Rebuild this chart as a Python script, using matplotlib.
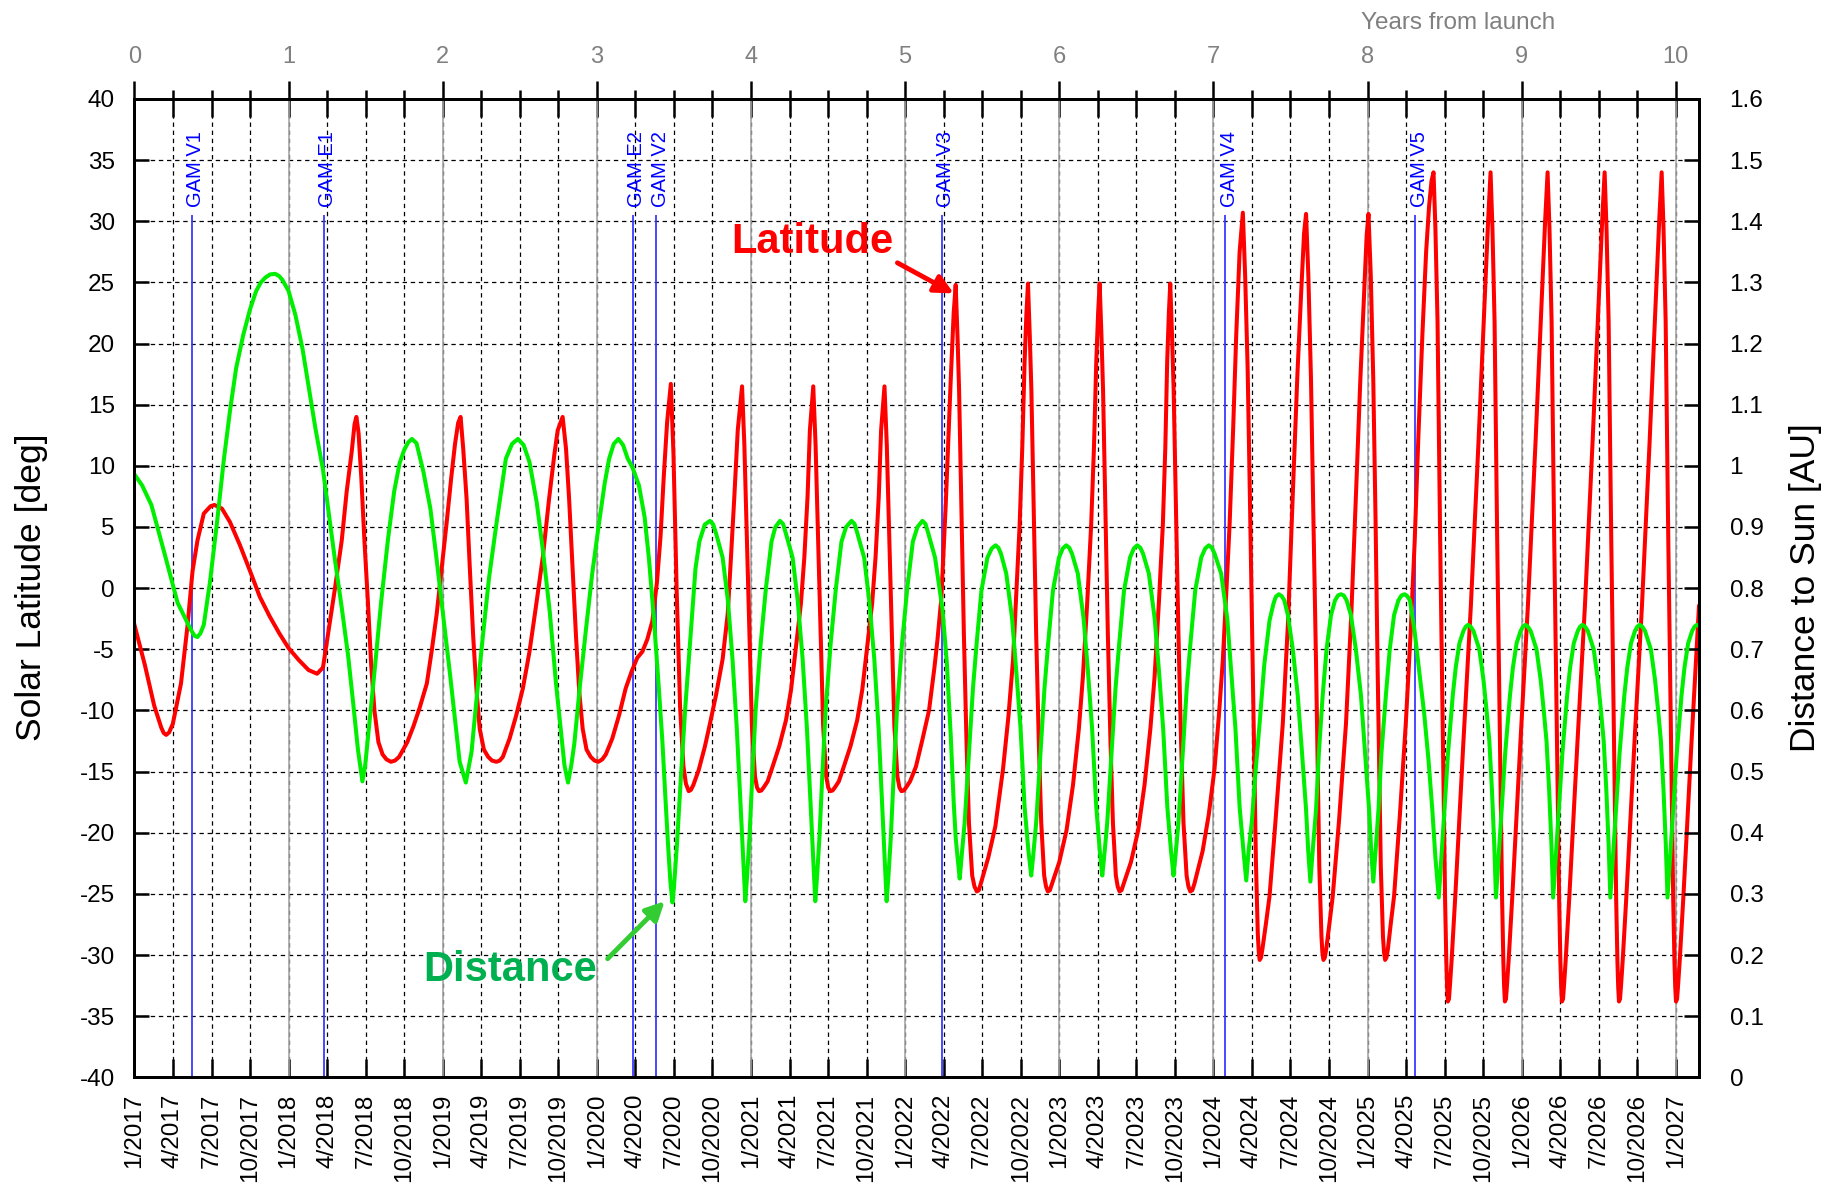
import matplotlib
matplotlib.use('Agg')
import matplotlib.pyplot as plt
import numpy as np
from matplotlib import font_manager

plt.rcParams['font.family'] = ['Liberation Sans', 'DejaVu Sans']
plt.rcParams['axes.unicode_minus'] = False

# solar latitude [deg] against years from launch
lat_t = [
    0.0, 0.068, 0.128, 0.174, 0.19, 0.206, 0.225, 0.249, 0.302, 0.345, 0.377, 0.409, 0.45, 0.494, 0.519, 0.568, 0.62, 0.685,
    0.75, 0.813, 0.877, 0.94, 1.0, 1.068, 1.13, 1.185, 1.223, 1.26, 1.30, 1.345, 1.377, 1.41, 1.428, 1.44,
    1.454, 1.472, 1.492, 1.515, 1.536, 1.557, 1.583, 1.61, 1.635, 1.664, 1.69, 1.717, 1.77, 1.81, 1.85, 1.897, 1.93, 1.961, 1.995, 2.026, 2.055, 2.08, 2.10, 2.116,
    2.133, 2.155, 2.176, 2.198, 2.22, 2.24, 2.267, 2.295, 2.32, 2.348, 2.37, 2.39, 2.434, 2.477, 2.52, 2.563, 2.606, 2.65, 2.69, 2.725, 2.746, 2.778,
    2.8, 2.82, 2.843, 2.865, 2.886, 2.908, 2.933, 2.96, 2.985, 3.01, 3.035, 3.058, 3.10, 3.144, 3.187, 3.226, 3.262, 3.295, 3.327, 3.36, 3.39, 3.413, 3.434, 3.456, 3.48,
    3.497, 3.518, 3.54, 3.561, 3.578, 3.596, 3.61, 3.626, 3.66, 3.70, 3.73, 3.773, 3.816, 3.849, 3.87, 3.892, 3.914, 3.942,
    3.957, 3.972, 3.99, 4.006, 4.026, 4.039, 4.052, 4.067, 4.082, 4.108, 4.14, 4.184, 4.227, 4.26, 4.29, 4.324, 4.346, 4.367, 4.382, 4.404,
    4.419, 4.434, 4.452, 4.468, 4.488, 4.501, 4.514, 4.529, 4.544, 4.57, 4.602, 4.646, 4.689, 4.722, 4.752, 4.786, 4.808, 4.829, 4.844, 4.866,
    4.881, 4.896, 4.914, 4.93, 4.95, 4.963, 4.976, 4.991, 5.006, 5.032, 5.07, 5.11, 5.155, 5.19, 5.21, 5.235, 5.263, 5.296, 5.315, 5.328,
    5.34, 5.35, 5.365, 5.381, 5.398, 5.414, 5.435, 5.45, 5.465, 5.478, 5.49, 5.54, 5.585, 5.635, 5.67, 5.70, 5.72, 5.743, 5.76, 5.775, 5.787, 5.797,
    5.809, 5.819, 5.834, 5.85, 5.867, 5.883, 5.902, 5.914, 5.926, 5.939, 5.952, 6.0, 6.047, 6.089, 6.127, 6.153, 6.182, 6.207, 6.225, 6.24, 6.252, 6.262,
    6.274, 6.284, 6.299, 6.315, 6.332, 6.348, 6.367, 6.379, 6.391, 6.404, 6.417, 6.465, 6.512, 6.553, 6.591, 6.618, 6.647, 6.672, 6.688, 6.70, 6.711, 6.72,
    6.732, 6.742, 6.757, 6.773, 6.79, 6.806, 6.826, 6.838, 6.85, 6.863, 6.876, 6.93, 6.97, 7.007, 7.035, 7.061, 7.085, 7.105, 7.128, 7.148, 7.17, 7.191,
    7.206, 7.222, 7.238, 7.255, 7.276, 7.288, 7.294, 7.30, 7.309, 7.318, 7.34, 7.364, 7.40, 7.45, 7.485, 7.515, 7.545, 7.569, 7.588, 7.601,
    7.616, 7.633, 7.649, 7.666, 7.687, 7.701, 7.707, 7.714, 7.723, 7.732, 7.752, 7.774, 7.815, 7.86, 7.895, 7.925, 7.953, 7.978, 7.994, 8.006,
    8.021, 8.037, 8.052, 8.065, 8.086, 8.10, 8.107, 8.114, 8.123, 8.132, 8.15, 8.172, 8.21, 8.248, 8.28, 8.306, 8.33, 8.356, 8.38, 8.399, 8.415, 8.428,
    8.44, 8.454, 8.471, 8.488, 8.503, 8.511, 8.516, 8.521, 8.528, 8.535, 8.545, 8.57, 8.62, 8.67, 8.72, 8.76, 8.782, 8.798,
    8.81, 8.824, 8.841, 8.858, 8.873, 8.881, 8.886, 8.891, 8.898, 8.905, 8.915, 8.94, 8.99, 9.04, 9.09, 9.13, 9.152, 9.168,
    9.18, 9.194, 9.211, 9.228, 9.243, 9.251, 9.256, 9.261, 9.268, 9.275, 9.285, 9.31, 9.36, 9.41, 9.46, 9.50, 9.522, 9.538,
    9.55, 9.564, 9.581, 9.598, 9.613, 9.621, 9.626, 9.631, 9.638, 9.645, 9.655, 9.68, 9.73, 9.78, 9.83, 9.87, 9.892, 9.908,
    9.92, 9.934, 9.951, 9.968, 9.983, 9.991, 9.996, 10.001, 10.008, 10.015, 10.025, 10.05, 10.10, 10.15,
]
lat_v = [
    -3.0, -6.3, -9.6, -11.4, -11.85, -12.0, -11.8, -11.1, -7.8, -3.0, 1.4, 3.9, 6.1, 6.7, 6.8, 6.5, 5.4, 3.5,
    1.4, -0.7, -2.3, -3.7, -4.9, -5.9, -6.7, -7.0, -6.5, -3.4, -0.1, 3.9, 7.9, 11.2, 13.4, 14.0,
    12.7, 9.0, 3.9, -1.2, -6.3, -10.0, -12.6, -13.6, -14.0, -14.2, -14.1, -13.8, -12.6, -11.3, -9.8, -7.8, -5.0, -2.1, 1.8, 5.4, 9.0, 11.8, 13.5, 14.0,
    11.4, 7.3, 1.6, -4.0, -8.5, -11.5, -13.2, -13.8, -14.1, -14.2, -14.1, -13.8, -12.3, -10.4, -8.2, -5.2, -1.4, 2.6, 7.3, 11.0, 12.9, 14.0,
    11.4, 7.3, 1.6, -4.0, -8.5, -11.5, -13.2, -13.8, -14.1, -14.2, -14.0, -13.6, -12.3, -10.4, -8.2, -6.8, -5.7, -5.2, -4.2, -2.7, 0.5, 4.2, 9.1, 13.6, 16.7,
    11.0, -0.3, -9.7, -14.5, -16.0, -16.6, -16.5, -16.1, -14.9, -13.0, -11.3, -8.75, -5.8, -2.1, 2.5, 7.5, 12.9, 16.5,
    11.7, 4.6, -3.75, -11.25, -15.4, -16.3, -16.6, -16.55, -16.3, -15.8, -14.6, -12.9, -10.8, -8.3, -5.0, -1.25, 2.5, 7.5, 12.9, 16.5,
    11.7, 4.6, -3.75, -11.25, -15.4, -16.3, -16.6, -16.55, -16.3, -15.8, -14.6, -12.9, -10.8, -8.3, -5.0, -1.25, 2.5, 7.5, 12.9, 16.5,
    11.7, 4.6, -3.75, -11.25, -15.4, -16.3, -16.6, -16.55, -16.3, -15.8, -14.6, -12.5, -10.0, -6.5, -4.2, -0.8, 6.7, 17.1, 22.5, 24.8,
    20.5, 16.2, 6.5, -3.7, -12.5, -19.2, -23.5, -24.4, -24.8, -24.7, -24.2, -22.0, -19.5, -14.8, -10.5, -5.9, -0.8, 5.2, 11.5, 18.5, 22.5, 24.9,
    20.5, 16.2, 6.5, -3.7, -12.5, -19.2, -23.5, -24.4, -24.8, -24.7, -24.2, -22.4, -19.8, -16.1, -11.5, -7.3, -1.0, 5.2, 11.5, 18.5, 22.5, 24.9,
    20.5, 16.2, 6.5, -3.7, -12.5, -19.2, -23.5, -24.4, -24.8, -24.7, -24.2, -22.4, -19.8, -16.1, -11.5, -7.3, -1.0, 5.2, 11.5, 18.5, 22.5, 24.9,
    20.5, 16.2, 6.5, -3.7, -12.5, -19.2, -23.5, -24.4, -24.8, -24.7, -24.2, -21.5, -18.5, -14.8, -10.5, -5.9, 0.0, 5.2, 13.0, 20.7, 27.5, 30.7,
    25.5, 18.0, 6.5, -6.3, -22.5, -28.3, -29.7, -30.4, -30.2, -29.5, -27.5, -25.2, -19.5, -11.1, -2.5, 7.7, 17.5, 24.1, 29.0, 30.6,
    25.5, 17.1, 5.5, -6.3, -22.8, -28.5, -29.8, -30.4, -30.2, -29.5, -27.5, -25.2, -19.0, -11.1, -2.0, 7.7, 17.0, 24.1, 28.8, 30.6,
    25.5, 17.1, 5.5, -6.3, -22.8, -28.5, -29.8, -30.4, -30.2, -29.5, -27.5, -25.2, -18.5, -11.1, -3.5, 3.9, 12.5, 20.8, 27.5, 31.2, 33.3, 34.0,
    29.5, 21.8, 4.0, -12.0, -25.5, -30.5, -32.6, -33.8, -33.6, -32.4, -30.5, -25.0, -13.0, -1.5, 12.0, 23.5, 30.0, 34.0,
    29.5, 21.8, 4.0, -12.0, -25.5, -30.5, -32.6, -33.8, -33.6, -32.4, -30.5, -25.0, -13.0, -1.5, 12.0, 23.5, 30.0, 34.0,
    29.5, 21.8, 4.0, -12.0, -25.5, -30.5, -32.6, -33.8, -33.6, -32.4, -30.5, -25.0, -13.0, -1.5, 12.0, 23.5, 30.0, 34.0,
    29.5, 21.8, 4.0, -12.0, -25.5, -30.5, -32.6, -33.8, -33.6, -32.4, -30.5, -25.0, -13.0, -1.5, 12.0, 23.5, 30.0, 34.0,
    29.5, 21.8, 4.0, -12.0, -25.5, -30.5, -32.6, -33.8, -33.6, -32.4, -30.5, -25.0, -13.0, -1.5,
]

# distance to sun [AU] against years from launch
dist_t = [
    0.0, 0.05, 0.11, 0.196, 0.28, 0.366, 0.39, 0.408, 0.428, 0.45, 0.49, 0.536, 0.58, 0.62, 0.66, 0.706, 0.75, 0.79, 0.82, 0.85,
    0.88, 0.913, 0.94, 0.96, 1.0, 1.045, 1.09, 1.13, 1.175, 1.223, 1.26, 1.30, 1.345, 1.387, 1.42, 1.45, 1.479,
    1.497, 1.515, 1.56, 1.60, 1.645, 1.685, 1.72, 1.75, 1.775, 1.80, 1.83, 1.875, 1.92, 1.96, 2.005, 2.047, 2.08, 2.11, 2.15,
    2.187, 2.22, 2.26, 2.30, 2.35, 2.41, 2.45, 2.488, 2.525, 2.563, 2.61, 2.65, 2.695, 2.735, 2.765, 2.79, 2.813,
    2.834, 2.854, 2.89, 2.93, 2.97, 3.015, 3.05, 3.08, 3.11, 3.14, 3.17, 3.2, 3.23, 3.273, 3.31, 3.338, 3.37, 3.40, 3.425, 3.445, 3.462, 3.477, 3.49,
    3.50, 3.52, 3.545, 3.574, 3.61, 3.64, 3.665, 3.70, 3.734, 3.755, 3.775, 3.816, 3.85, 3.88, 3.908, 3.935, 3.951, 3.963,
    3.975, 3.99, 4.008, 4.03, 4.063, 4.097, 4.133, 4.158, 4.188, 4.208, 4.228, 4.27, 4.303, 4.335, 4.363, 4.389, 4.405, 4.417,
    4.429, 4.444, 4.462, 4.484, 4.517, 4.551, 4.587, 4.617, 4.652, 4.672, 4.692, 4.734, 4.767, 4.80, 4.828, 4.853, 4.868, 4.88,
    4.892, 4.907, 4.925, 4.947, 4.98, 5.014, 5.05, 5.08, 5.112, 5.132, 5.152, 5.194, 5.242, 5.27, 5.296, 5.315, 5.328, 5.34, 5.354,
    5.366, 5.386, 5.414, 5.44, 5.464, 5.495, 5.534, 5.562, 5.587, 5.605, 5.622, 5.656, 5.694, 5.721, 5.749, 5.775, 5.80, 5.818,
    5.83, 5.85, 5.878, 5.904, 5.928, 5.959, 5.998, 6.023, 6.045, 6.065, 6.083, 6.12, 6.158, 6.186, 6.213, 6.24, 6.263, 6.279,
    6.291, 6.311, 6.339, 6.365, 6.389, 6.42, 6.459, 6.484, 6.506, 6.526, 6.544, 6.581, 6.619, 6.647, 6.674, 6.701, 6.725, 6.741,
    6.753, 6.773, 6.801, 6.827, 6.851, 6.882, 6.921, 6.947, 6.97, 6.99, 7.008, 7.05, 7.09, 7.115, 7.143, 7.17, 7.195, 7.213,
    7.228, 7.25, 7.27, 7.30, 7.33, 7.364, 7.39, 7.405, 7.424, 7.443, 7.46, 7.483, 7.515, 7.547, 7.575, 7.601, 7.615, 7.629,
    7.644, 7.666, 7.684, 7.709, 7.734, 7.763, 7.789, 7.808, 7.828, 7.846, 7.864, 7.892, 7.924, 7.957, 7.984, 8.01, 8.024, 8.037,
    8.052, 8.071, 8.09, 8.119, 8.144, 8.172, 8.20, 8.22, 8.24, 8.258, 8.275, 8.306, 8.337, 8.367, 8.395, 8.42, 8.44, 8.462,
    8.474, 8.487, 8.499, 8.522, 8.553, 8.572, 8.596, 8.622, 8.637, 8.652, 8.669, 8.687, 8.725, 8.752, 8.772, 8.79, 8.807, 8.822, 8.833,
    8.845, 8.858, 8.87, 8.893, 8.924, 8.943, 8.967, 8.993, 9.008, 9.023, 9.04, 9.058, 9.096, 9.123, 9.143, 9.161, 9.178, 9.193, 9.204,
    9.216, 9.229, 9.241, 9.264, 9.295, 9.314, 9.338, 9.364, 9.379, 9.394, 9.411, 9.429, 9.467, 9.494, 9.514, 9.532, 9.549, 9.564, 9.575,
    9.587, 9.60, 9.612, 9.635, 9.666, 9.685, 9.709, 9.735, 9.75, 9.765, 9.782, 9.80, 9.838, 9.865, 9.885, 9.903, 9.92, 9.935, 9.946,
    9.958, 9.971, 9.983, 10.006, 10.037, 10.056, 10.08, 10.106, 10.121, 10.136, 10.15,
]
dist_v = [
    0.986, 0.968, 0.936, 0.856, 0.776, 0.732, 0.722, 0.72, 0.726, 0.74, 0.81, 0.908, 1.01, 1.09, 1.16, 1.214, 1.256, 1.286, 1.30, 1.308,
    1.313, 1.314, 1.31, 1.304, 1.286, 1.246, 1.192, 1.13, 1.06, 0.994, 0.924, 0.848, 0.768, 0.688, 0.61, 0.536, 0.484,
    0.51, 0.556, 0.67, 0.776, 0.88, 0.958, 1.004, 1.026, 1.038, 1.044, 1.037, 0.99, 0.93, 0.848, 0.75, 0.66, 0.584, 0.516, 0.482,
    0.532, 0.62, 0.72, 0.816, 0.908, 1.012, 1.036, 1.044, 1.034, 1.006, 0.94, 0.862, 0.76, 0.644, 0.57, 0.51, 0.482,
    0.51, 0.546, 0.64, 0.734, 0.824, 0.908, 0.97, 1.012, 1.036, 1.044, 1.034, 1.012, 0.998, 0.968, 0.916, 0.848, 0.75, 0.644, 0.55, 0.456, 0.38, 0.32, 0.286,
    0.31, 0.382, 0.49, 0.606, 0.73, 0.832, 0.876, 0.904, 0.91, 0.904, 0.888, 0.85, 0.78, 0.684, 0.57, 0.434, 0.35, 0.288,
    0.33, 0.392, 0.49, 0.60, 0.71, 0.80, 0.876, 0.90, 0.91, 0.905, 0.888, 0.85, 0.78, 0.684, 0.57, 0.434, 0.35, 0.288,
    0.33, 0.392, 0.49, 0.60, 0.71, 0.80, 0.876, 0.90, 0.91, 0.905, 0.888, 0.85, 0.78, 0.684, 0.57, 0.434, 0.35, 0.288,
    0.33, 0.392, 0.49, 0.60, 0.71, 0.80, 0.876, 0.90, 0.91, 0.905, 0.888, 0.85, 0.766, 0.68, 0.558, 0.45, 0.392, 0.36, 0.325,
    0.36, 0.416, 0.53, 0.636, 0.71, 0.796, 0.85, 0.865, 0.87, 0.866, 0.856, 0.824, 0.75, 0.664, 0.57, 0.442, 0.37, 0.33,
    0.36, 0.416, 0.53, 0.636, 0.71, 0.796, 0.85, 0.865, 0.87, 0.866, 0.856, 0.824, 0.75, 0.664, 0.57, 0.442, 0.37, 0.33,
    0.36, 0.416, 0.53, 0.636, 0.71, 0.796, 0.85, 0.865, 0.87, 0.866, 0.856, 0.824, 0.75, 0.664, 0.57, 0.442, 0.37, 0.33,
    0.36, 0.416, 0.53, 0.636, 0.71, 0.796, 0.85, 0.865, 0.87, 0.866, 0.856, 0.824, 0.75, 0.664, 0.57, 0.442, 0.37, 0.322,
    0.37, 0.42, 0.49, 0.58, 0.675, 0.747, 0.775, 0.786, 0.79, 0.787, 0.78, 0.756, 0.70, 0.625, 0.53, 0.438, 0.37, 0.32,
    0.37, 0.438, 0.53, 0.625, 0.70, 0.756, 0.78, 0.788, 0.79, 0.788, 0.78, 0.756, 0.70, 0.625, 0.53, 0.438, 0.37, 0.32,
    0.37, 0.438, 0.53, 0.625, 0.70, 0.756, 0.78, 0.788, 0.79, 0.787, 0.78, 0.728, 0.66, 0.596, 0.52, 0.438, 0.36, 0.294,
    0.34, 0.39, 0.438, 0.53, 0.625, 0.67, 0.71, 0.73, 0.737, 0.74, 0.737, 0.73, 0.70, 0.65, 0.60, 0.55, 0.47, 0.38, 0.294,
    0.34, 0.39, 0.438, 0.53, 0.625, 0.67, 0.71, 0.73, 0.737, 0.74, 0.737, 0.73, 0.70, 0.65, 0.60, 0.55, 0.47, 0.38, 0.294,
    0.34, 0.39, 0.438, 0.53, 0.625, 0.67, 0.71, 0.73, 0.737, 0.74, 0.737, 0.73, 0.70, 0.65, 0.60, 0.55, 0.47, 0.38, 0.294,
    0.34, 0.39, 0.438, 0.53, 0.625, 0.67, 0.71, 0.73, 0.737, 0.74, 0.737, 0.73, 0.70, 0.65, 0.60, 0.55, 0.47, 0.38, 0.294,
    0.34, 0.39, 0.438, 0.53, 0.625, 0.67, 0.71, 0.73, 0.737, 0.74, 0.738,
]

# gravity assist manoeuvres (years from launch)
gam_names = ['GAM V1', 'GAM E1', 'GAM E2', 'GAM V2', 'GAM V3', 'GAM V4', 'GAM V5']
gam_t = [0.374, 1.228, 3.232, 3.385, 5.238, 7.078, 8.31]

# axis ticks
years = list(range(2017, 2028))
months = [1, 4, 7, 10]
date_labels = [f'{m}/{y}' for y in years for m in months][:41]
date_pos = [i / 4 for i in range(len(date_labels))]
launch_years = list(range(11))
lat_ticks = list(range(-40, 41, 5))
au_ticks = [round(0.1 * i, 1) for i in range(17)]

names = {f.name for f in font_manager.fontManager.ttflist}
if 'Liberation Sans Narrow' in names:
    ann_font, ann_size = 'Liberation Sans Narrow', 36
else:
    ann_font, ann_size = 'Liberation Sans', 30

fig = plt.figure(figsize=(18.29, 11.92), dpi=100)
ax = fig.add_axes([0.0735, 0.0962, 0.8554, 0.8208])
ax2 = ax.twinx()
ax3 = ax.twiny()

ax.set_xlim(0, 10.15)
ax.set_ylim(-40, 40)
ax2.set_ylim(0, 1.6)
ax3.set_xlim(0, 10.15)

# grid
ax.set_axisbelow(True)
ax.set_xticks(date_pos)
ax.set_xticklabels(date_labels)
ax.set_yticks(lat_ticks)
ax.grid(True, color='black', lw=0.9, ls=(0, (3.5, 3)))
ax.vlines(launch_years, -40, 40, colors='#a6a6a6', lw=1.2, zorder=1)

# gravity assists
ax.vlines(gam_t, -40, 30.5, colors='#3a3aff', lw=1.3, zorder=1.5)
for name, t in zip(gam_names, gam_t):
    ax.text(t + 0.025, 31.2, name, rotation=90, ha='center', va='bottom',
            color='#0000ff', fontsize=14.5)

ax.plot(lat_t, lat_v, color='#ff0000', lw=2.9, zorder=3, solid_joinstyle='round')
ax2.plot(dist_t, dist_v, color='#00ee00', lw=2.9, zorder=3, solid_joinstyle='round')

# ticks
ax.tick_params(axis='x', which='major', direction='in', length=13, width=1.8,
               labelsize=17.5, labelrotation=90, pad=12, top=True, bottom=True)
ax.tick_params(axis='y', direction='in', length=11, width=1.8, labelsize=17.5,
               pad=14, left=True, right=False)
ax2.set_yticks(au_ticks)
ax2.set_yticklabels([f'{v:g}' for v in au_ticks])
ax2.tick_params(axis='y', direction='in', length=11, width=1.8, labelsize=17.5, pad=22)

ax3.set_xticks(launch_years)
ax3.set_xticks(date_pos, minor=True)
ax3.tick_params(axis='x', which='major', direction='out', length=13, width=1.8,
                labelsize=17, labelcolor='#808080', pad=9)
ax3.tick_params(axis='x', which='minor', direction='out', length=6.5, width=1.8)

for a in (ax, ax2, ax3):
    for s in a.spines.values():
        s.set_linewidth(2.0)

fig.text(31.5 / 1829, 0.507, 'Solar Latitude [deg]', rotation=90, ha='center', va='center', fontsize=25.5)
fig.text(1805 / 1829, 0.507, 'Distance to Sun [AU]', rotation=90, ha='center', va='center', fontsize=25.5)
fig.text(1458 / 1829, 1 - 23 / 1192, 'Years from launch', ha='center', va='center',
         fontsize=17.5, color='#808080')

# annotations
ax.text(4.4, 28.3, 'Latitude', color='#ff0000', fontsize=ann_size, fontweight='bold',
        family=ann_font, ha='center', va='center', zorder=5)
ax.annotate('', xy=(5.315, 24.1), xytext=(4.95, 26.6),
            arrowprops=dict(arrowstyle='-|>', color='#ff0000', lw=3.5, mutation_scale=28,
                            shrinkA=0, shrinkB=0), zorder=5)
ax.text(2.438, -31.25, 'Distance', color='#00b050', fontsize=ann_size, fontweight='bold',
        family=ann_font, ha='center', va='center', zorder=5)
ax.annotate('', xy=(3.44, -25.6), xytext=(3.07, -30.3),
            arrowprops=dict(arrowstyle='-|>', color='#33cc33', lw=3.5, mutation_scale=28,
                            shrinkA=0, shrinkB=0), zorder=5)

fig.savefig('out.png', dpi=100)
